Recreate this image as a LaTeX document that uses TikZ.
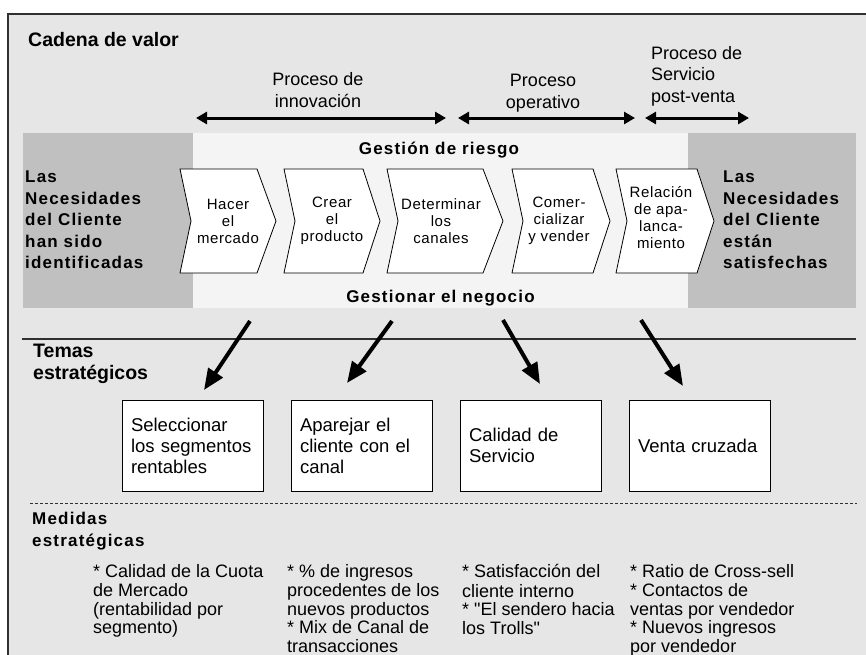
\documentclass[tikz,border=0pt]{standalone}
\usepackage{fontspec}
\setmainfont{Liberation Sans}
\newfontfamily\regsp{Liberation Sans}[LetterSpace=4]
\newfontfamily\boldsp{Liberation Sans}[LetterSpace=7]
\newfontfamily\measfont{Liberation Sans}[Ligatures=TeXOff]
\usetikzlibrary{arrows.meta}
\definecolor{bgc}{HTML}{E6E6E6}
\definecolor{bandc}{HTML}{F4F4F4}
\definecolor{greyc}{HTML}{C0C0C0}
\definecolor{framec}{HTML}{303030}
\begin{document}
\begin{tikzpicture}[x=1pt,y=-1pt,
  hdr/.style={font=\boldsp\bfseries\fontsize{17}{21.5}\selectfont, align=left, inner sep=0pt},
  sect/.style={font=\bfseries\fontsize{19.5}{22}\selectfont, align=left, inner sep=0pt},
  proc/.style={font=\fontsize{18}{21.5}\selectfont, inner sep=0pt},
  chev/.style={draw=black, fill=white, line width=0.8pt, line join=miter},
  chevtxt/.style={font=\regsp\fontsize{15}{17}\selectfont, align=center, inner sep=0pt},
  theme/.style={draw=black, fill=white, line width=0.9pt, minimum height=91pt, text width=123pt, inner xsep=9pt, inner ysep=0pt, align=left, font=\fontsize{18.5}{21}\selectfont},
  meas/.style={font=\measfont\fontsize{18}{18.5}\selectfont, align=left, inner sep=0pt, anchor=north west},
  bigarrow/.style={line width=4pt, -{Triangle[length=21pt,width=17pt]}},
  dblarrow/.style={line width=3pt, {Triangle[length=11pt,width=12pt]}-{Triangle[length=11pt,width=12pt]}},
]
\useasboundingbox (0,0) rectangle (866,654);
\fill[white] (0,0) rectangle (866,654);
% frame
\fill[bgc] (7.5,13.5) rectangle (880,670);
\draw[framec, line width=2pt] (880,13.5) -- (7.5,13.5) -- (7.5,670);

\node[sect, anchor=west] (cadena) at (28,40) {Cadena de valor};

% process labels
\node[proc, align=center] (p1) at (318,90) {Proceso de\\innovación};
\node[proc, align=center] (p2) at (543,93) {Proceso\\operativo};
\node[proc, align=left, anchor=west] (p3) at (651,76) {Proceso de\\Servicio\\post-venta};

\coordinate (d1a) at (196,118); \coordinate (d1b) at (446,118);
\coordinate (d2a) at (458,118); \coordinate (d2b) at (635,118);
\coordinate (d3a) at (645,118); \coordinate (d3b) at (749,118);
\draw[dblarrow] (d1a) -- (d1b);
\draw[dblarrow] (d2a) -- (d2b);
\draw[dblarrow] (d3a) -- (d3b);

% band
\fill[bandc] (193,133) rectangle (688,308);
\fill[greyc] (23,133) rectangle (193,308);
\fill[greyc] (688,133) rectangle (856,308);

\node[hdr, anchor=west] (izq) at (25,220) {Las\\Necesidades\\del Cliente\\han sido\\identificadas};
\node[hdr, anchor=west] (der) at (723,220) {Las\\Necesidades\\del Cliente\\están\\satisfechas};

\node[hdr] (riesgo) at (439,150) {Gestión de riesgo};
\node[hdr] (negocio) at (440.5,298) {Gestionar el negocio};

% chevrons
\draw[chev] (180,169) -- (257,169) -- (276,221) -- (257,273) -- (180,273) -- (191,221) -- cycle;
\draw[chev] (284,169) -- (363,169) -- (380,221) -- (363,273) -- (284,273) -- (295,221) -- cycle;
\draw[chev] (387,169) -- (483,169) -- (503,221) -- (483,273) -- (387,273) -- (398,221) -- cycle;
\draw[chev] (512,169) -- (593,169) -- (610,221) -- (593,273) -- (512,273) -- (523,221) -- cycle;
\draw[chev] (616,169) -- (697,169) -- (714,221) -- (697,273) -- (616,273) -- (627,221) -- cycle;
\node[chevtxt] (c1) at (228,221) {Hacer\\el\\mercado};
\node[chevtxt] (c2) at (332,221) {Crear\\el\\producto};
\node[chevtxt] (c3) at (441,221) {Determinar\\los\\canales};
\node[chevtxt] (c4) at (559,221) {Comer-\\cializar\\y vender};
\node[chevtxt] (c5) at (661,218) {Relación\\de apa-\\lanca-\\miento};

% separators
\coordinate (l1a) at (22,339); \coordinate (l1b) at (856,339);
\draw[framec, line width=1.5pt] (l1a) -- (l1b);
\coordinate (l2a) at (30,503); \coordinate (l2b) at (857,503);
\draw[framec, line width=0.9pt, dash pattern=on 3pt off 2pt] (l2a) -- (l2b);

% big arrows
\coordinate (a1s) at (250,321); \coordinate (a1e) at (204,390);
\coordinate (a2s) at (392,321); \coordinate (a2e) at (347,383);
\coordinate (a3s) at (503,320); \coordinate (a3e) at (540,384);
\coordinate (a4s) at (641,320); \coordinate (a4e) at (683,386);
\draw[bigarrow] (a1s) -- (a1e);
\draw[bigarrow] (a2s) -- (a2e);
\draw[bigarrow] (a3s) -- (a3e);
\draw[bigarrow] (a4s) -- (a4e);

\node[sect, anchor=west] (temas) at (33,364) {Temas\\estratégicos};

% theme boxes
\node[theme] (t1) at (192.5,445.5) {Seleccionar\\los segmentos\\rentables};
\node[theme] (t2) at (361.5,445.5) {Aparejar el\\cliente con el\\canal};
\node[theme] (t3) at (530.5,445.5) {Calidad de\\Servicio};
\node[theme] (t4) at (699.5,445.5) {Venta cruzada};

\node[hdr, anchor=west] (medidas) at (32,531) {Medidas\\estratégicas};

\node[meas] (m1) at (93,564) {\strut* Calidad de la Cuota\\de Mercado\\(rentabilidad por\\segmento)};
\node[meas] (m2) at (287,564) {\strut* \% de ingresos\\procedentes de los\\nuevos productos\\* Mix de Canal de\\transacciones};
\node[meas] (m3) at (462,564) {\strut* Satisfacción del\\cliente interno\\* "El sendero hacia\\los Trolls"};
\node[meas] (m4) at (630,564) {\strut* Ratio de Cross-sell\\* Contactos de\\ventas por vendedor\\* Nuevos ingresos\\por vendedor};
\end{tikzpicture}
\end{document}
